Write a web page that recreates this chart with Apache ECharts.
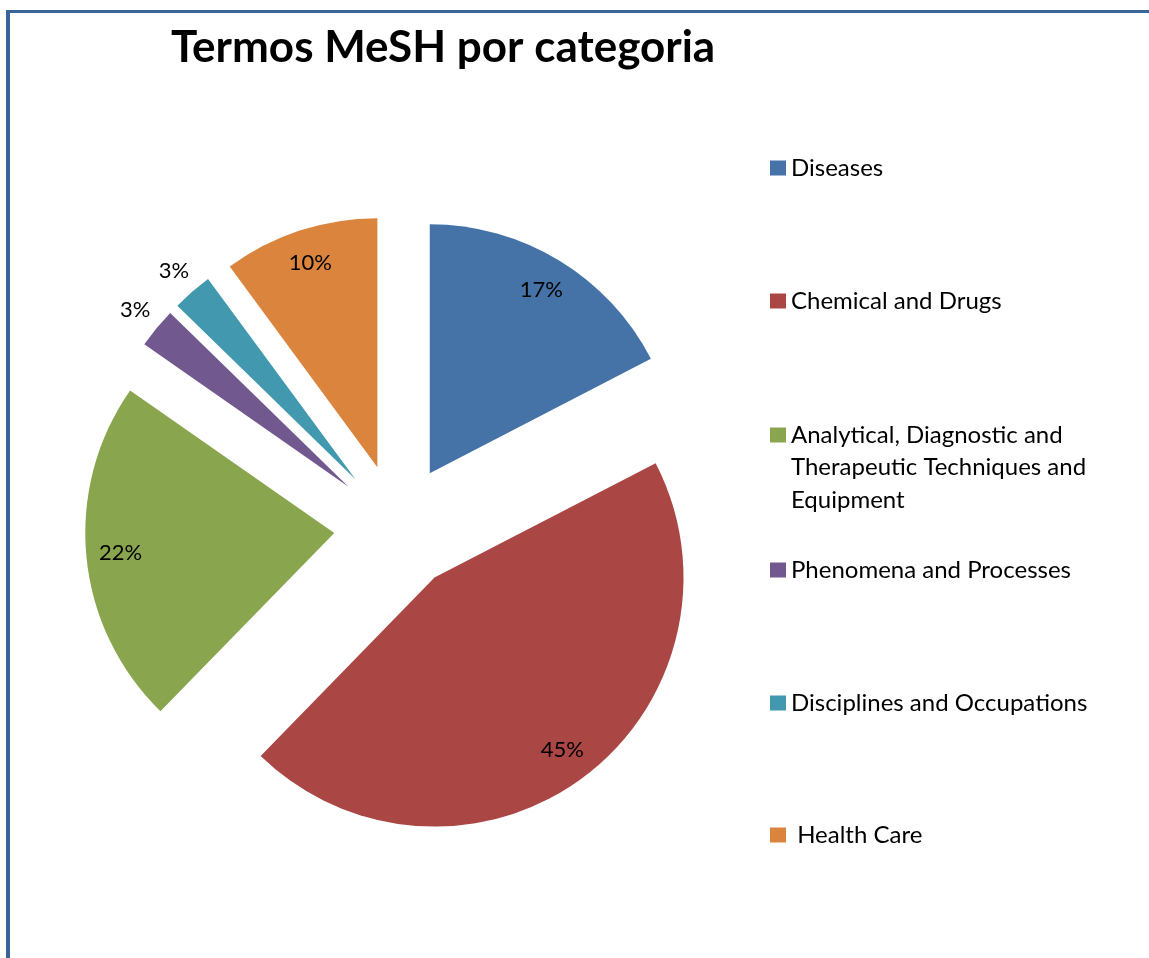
<!DOCTYPE html>
<html>
<head>
<meta charset="utf-8">
<script src="https://cdn.jsdelivr.net/npm/echarts@6/dist/echarts.min.js"></script>
<style>
  html, body { margin: 0; padding: 0; background: #fff; }
  #chart { width: 1149px; height: 958px; }
</style>
</head>
<body>
<div id="chart"></div>
<script>
const categories = [
  "Diseases",
  "Chemical and Drugs",
  "Analytical, Diagnostic and Therapeutic Techniques and Equipment",
  "Phenomena and Processes",
  "Disciplines and Occupations",
  "Health Care"
];
// percentages
const shares = [17.4, 44.9, 22.4, 2.6, 2.6, 10.1];
const colors = ["#4572A7", "#AA4643", "#89A54E", "#71588F", "#4198AF", "#DB843D"];
const legendTops = [168, 301, 435, 570, 703, 835];
const outsideLabels = [false, false, false, true, true, false];

const CX = 397, CY = 527, R = 249, OFFSET = 63;
const LINE_H = 32.5;
const FONT = "Lato, 'Open Sans', sans-serif";

const chart = echarts.init(document.getElementById("chart"));
const total = shares.reduce((a, b) => a + b, 0);
const pct = p => Math.round(p.value / total * 100) + "%";

// legend text; the long item wraps over three lines with the square on the first one
const legendText = name => {
  if (name.startsWith("Analytical")) return "\n\nAnalytical, Diagnostic and\nTherapeutic Techniques and\nEquipment";
  if (name === "Health Care") return " " + name;
  return name;
};
const lineCount = name => legendText(name).split("\n").length;

const baseData = categories.map((name, i) => ({ name, value: shares[i], selected: true }));

chart.setOption({
  animation: false,
  textStyle: { fontFamily: FONT },
  color: colors,
  title: {
    text: "Termos MeSH por categoria",
    left: 171, top: 26,
    padding: 0,
    textStyle: { fontSize: 44, fontWeight: "bold", color: "#000", fontFamily: FONT }
  },
  legend: categories.map((name, i) => ({
    data: [name],
    left: 770,
    top: legendTops[i] - LINE_H / 2 * lineCount(name),
    padding: 0,
    itemWidth: 16,
    itemHeight: 15,
    icon: "rect",
    selectedMode: false,
    formatter: legendText,
    textStyle: { fontSize: 24, color: "#000", lineHeight: LINE_H, fontFamily: FONT }
  })),
  graphic: [
    { type: "line", shape: { x1: 6, y1: 11.5, x2: 1149, y2: 11.5 }, style: { stroke: "#3A6599", lineWidth: 3 } },
    { type: "line", shape: { x1: 8, y1: 10, x2: 8, y2: 958 }, style: { stroke: "#3A6599", lineWidth: 4 } }
  ],
  series: [
    {
      type: "pie",
      center: [CX, CY],
      radius: [0, R],
      startAngle: 90,
      selectedMode: "multiple",
      selectedOffset: OFFSET,
      silent: true,
      label: { show: false },
      labelLine: { show: false },
      itemStyle: { borderWidth: 0 },
      data: baseData
    },
    {
      // inner percentage labels, placed near the rim
      type: "pie",
      center: [CX, CY],
      radius: [R * 0.7, R],
      startAngle: 90,
      selectedMode: "multiple",
      selectedOffset: OFFSET,
      silent: true,
      itemStyle: { color: "transparent" },
      labelLine: { show: false },
      label: { show: true, position: "inside", formatter: pct, fontSize: 22, color: "#000", fontFamily: FONT },
      data: baseData.map((d, i) => ({ ...d, label: { show: !outsideLabels[i] } }))
    },
    {
      // labels outside the thin slices
      type: "pie",
      center: [CX, CY],
      radius: [R * 1.03, R * 1.17],
      startAngle: 90,
      selectedMode: "multiple",
      selectedOffset: OFFSET,
      silent: true,
      itemStyle: { color: "transparent" },
      labelLine: { show: false },
      label: { show: true, position: "inside", formatter: pct, fontSize: 22, color: "#000", fontFamily: FONT },
      data: baseData.map((d, i) => ({ ...d, label: { show: outsideLabels[i] } }))
    }
  ]
});
</script>
</body>
</html>
